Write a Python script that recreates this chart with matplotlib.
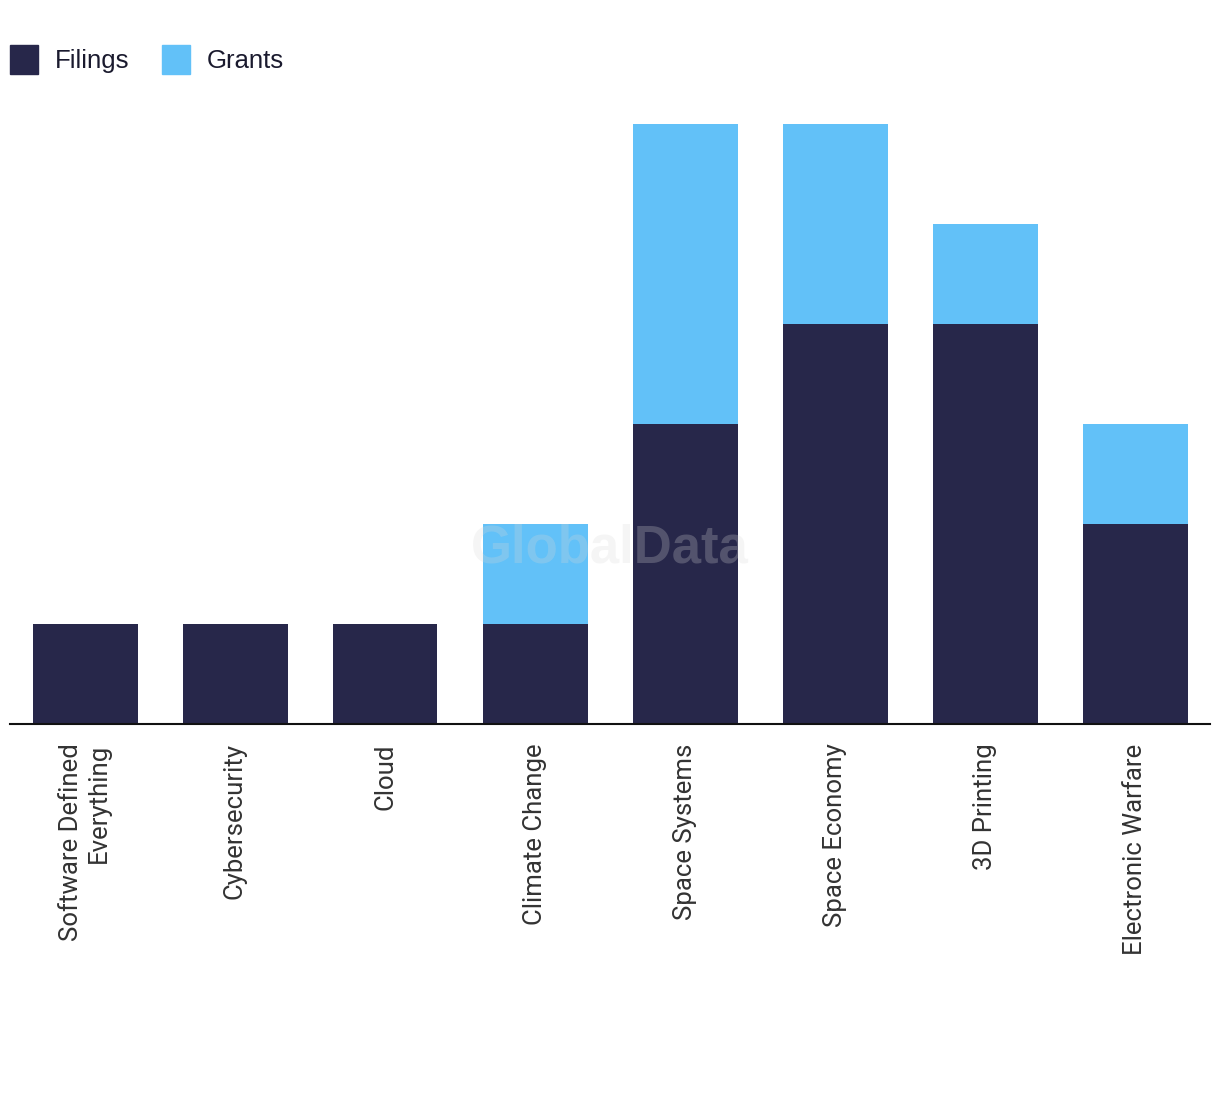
import matplotlib

matplotlib.use("Agg")
import matplotlib.pyplot as plt
import numpy as np
from matplotlib.patches import Patch

# Stacked counts per theme (1 unit = 100 px)
CATEGORIES = [
    "Software Defined\nEverything",
    "Cybersecurity",
    "Cloud",
    "Climate Change",
    "Space Systems",
    "Space Economy",
    "3D Printing",
    "Electronic Warfare",
]
FILINGS = [1, 1, 1, 1, 3, 4, 4, 2]
GRANTS = [0, 0, 0, 1, 3, 2, 1, 1]

DARK = "#27274a"
LIGHT = "#62c1f8"

plt.rcParams["font.family"] = ["Liberation Sans", "DejaVu Sans"]

fig = plt.figure(figsize=(12.2, 10.94), dpi=100)
ax = fig.add_axes([10 / 1220, 370 / 1094, 1200 / 1220, 650 / 1094])

x = np.arange(len(CATEGORIES))
filings = np.array(FILINGS)
grants = np.array(GRANTS)
ax.bar(x, filings, width=0.7, color=DARK, label="Filings", zorder=2)
ax.bar(x, grants, width=0.7, bottom=filings, color=LIGHT, label="Grants", zorder=2)

ax.set_xlim(-0.5, len(CATEGORIES) - 0.5)
ax.set_ylim(0, 6.5)
ax.set_yticks([])
ax.set_xticks(x)
ax.set_xticklabels(CATEGORIES, rotation=90, ha="center", va="top",
                   multialignment="right", fontsize=18.5, color="#333333",
                   family=["Roboto", "DejaVu Sans"])
ax.tick_params(axis="x", length=0, pad=14)
for side in ("top", "right", "left"):
    ax.spines[side].set_visible(False)
ax.spines["bottom"].set_color("#111111")
ax.spines["bottom"].set_linewidth(1.5)
ax.spines["bottom"].set_zorder(3)

# watermark
ax.text(0.5, 0.27, "GlobalData", transform=ax.transAxes, ha="center", va="center",
        fontsize=38, fontweight="bold", color="#d8d8d8", alpha=0.25, zorder=4)

handles = [Patch(color=DARK, label="Filings"), Patch(color=LIGHT, label="Grants")]
fig.legend(handles=handles, loc="upper left", bbox_to_anchor=(10 / 1220, 1 - 45 / 1094),
           ncol=2, frameon=False, fontsize=18.5, handlelength=1.09, handleheight=1.38,
           handletextpad=0.66, columnspacing=1.25, labelcolor="#1a1a2e",
           borderaxespad=0, borderpad=0)

fig.savefig("out.png", dpi=100)
